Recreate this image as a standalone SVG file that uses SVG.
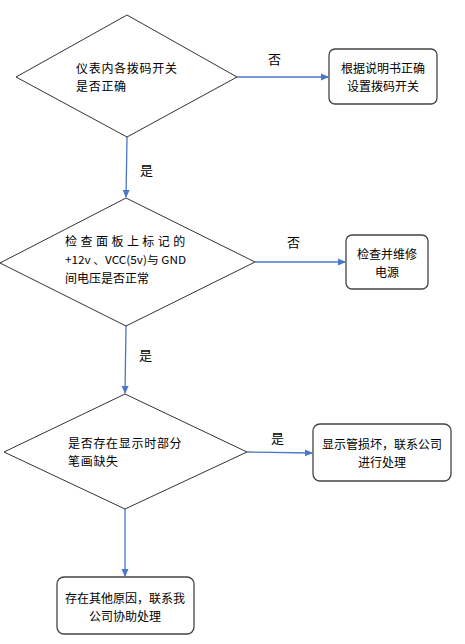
<svg xmlns="http://www.w3.org/2000/svg" width="465" height="644" viewBox="0 0 465 644">
<style>
.shape{fill:#fff;stroke:#333;stroke-width:1}
.box{fill:#fff;stroke:#444;stroke-width:1.3}
.t{font-family:"Noto Sans CJK SC","Liberation Sans",sans-serif;font-size:12px;letter-spacing:0.7px;fill:#000}
.l{font-family:"Noto Sans CJK SC","Liberation Sans",sans-serif;font-size:13px;fill:#000}
.tb{font-family:"Noto Sans CJK SC","Liberation Sans",sans-serif;font-size:12px;fill:#000;text-anchor:middle}
.c{stroke:#4a78c8;stroke-width:1.3;fill:none;marker-end:url(#ah)}
</style>
<defs>
<marker id="ah" markerWidth="8" markerHeight="8" refX="7" refY="4" orient="auto" markerUnits="userSpaceOnUse">
<path d="M0,0.5 L8,4 L0,7.5 Z" fill="#4a78c8"/>
</marker>
</defs>
<rect width="465" height="644" fill="#fff"/>
<g id="connectors">
<line class="c" x1="237" y1="77" x2="328" y2="77"/>
<text class="l" x="268" y="64">否</text>
<line class="c" x1="127" y1="137" x2="126" y2="197"/>
<text class="l" x="140" y="175">是</text>
<line class="c" x1="255" y1="262" x2="345" y2="262"/>
<text class="l" x="287" y="247">否</text>
<line class="c" x1="126" y1="326" x2="125" y2="393"/>
<text class="l" x="139" y="360">是</text>
<line class="c" x1="247" y1="452" x2="312" y2="453"/>
<text class="l" x="271" y="443">是</text>
<line class="c" x1="125" y1="509" x2="125" y2="576"/>
</g>
<g id="d1">
<polygon class="shape" points="16,77 127,15 237,77 127,137"/>
<text class="t" x="76" y="73">仪表内各拨码开关</text>
<text class="t" x="76" y="90.5">是否正确</text>
</g>
<g id="b1">
<rect class="box" x="329" y="49" width="108" height="55" rx="6"/>
<text class="tb" x="383" y="73">根据说明书正确</text>
<text class="tb" x="383" y="91">设置拨码开关</text>
</g>
<g id="d2">
<polygon class="shape" points="0,263 126,198 255,262 126,326"/>
<text class="t" x="65" y="246" textLength="121" lengthAdjust="spacing">检查面板上标记的</text>
<text class="t" x="65" y="264" textLength="121" lengthAdjust="spacingAndGlyphs" style="font-size:11px;letter-spacing:0">+12v 、VCC(5v)与 GND</text>
<text class="t" x="65" y="283" style="letter-spacing:0">间电压是否正常</text>
</g>
<g id="b2">
<rect class="box" x="346" y="235" width="82" height="54" rx="6"/>
<text class="tb" x="387" y="259">检查并维修</text>
<text class="tb" x="387" y="276.5">电源</text>
</g>
<g id="d3">
<polygon class="shape" points="4,452 125,394 247,452 125,509"/>
<text class="t" x="68" y="448">是否存在显示时部分</text>
<text class="t" x="68" y="465.5">笔画缺失</text>
</g>
<g id="b3">
<rect class="box" x="313" y="424" width="138" height="57" rx="7"/>
<text class="tb" x="382" y="449">显示管损坏，联系公司</text>
<text class="tb" x="382" y="466.5">进行处理</text>
</g>
<g id="b4">
<rect class="box" x="57" y="577" width="137" height="57" rx="7"/>
<text class="tb" x="125" y="603">存在其他原因，联系我</text>
<text class="tb" x="125" y="620.5">公司协助处理</text>
</g>
</svg>
